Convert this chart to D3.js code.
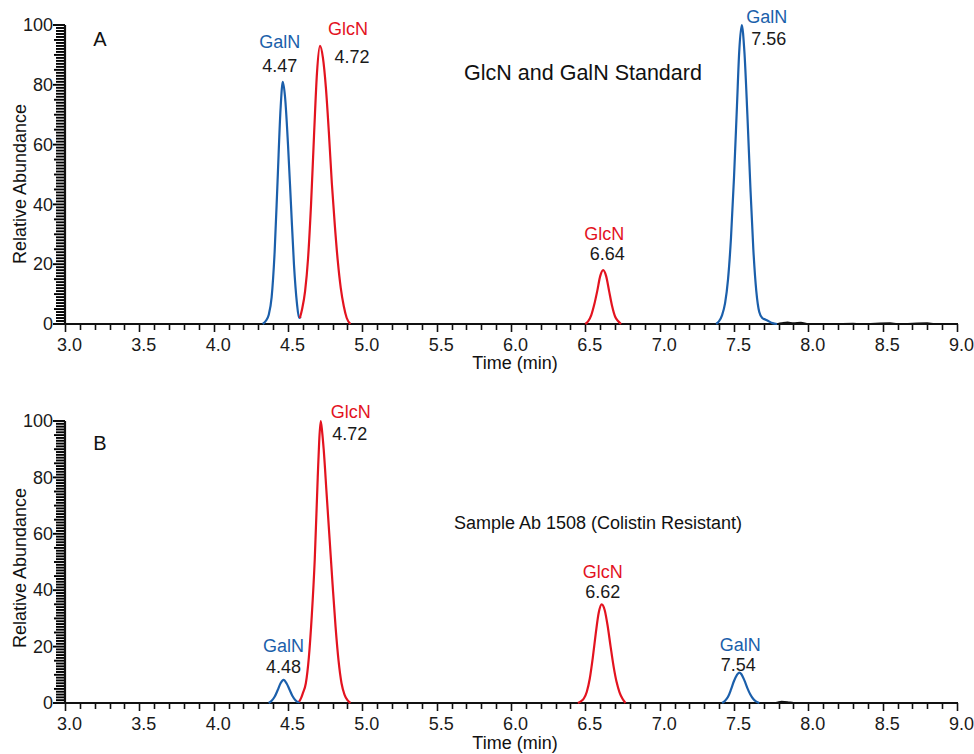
<!DOCTYPE html>
<html>
<head>
<meta charset="utf-8">
<script src="https://cdn.jsdelivr.net/npm/d3@7"></script>
<style>
  html, body { margin: 0; padding: 0; background: #fff; }
  svg { display: block; font-family: "Liberation Sans", Arial, sans-serif; }
</style>
</head>
<body>
<div id="chart"></div>
<script>
// tick labels
const xTickLabels = [3.0, 3.5, 4.0, 4.5, 5.0, 5.5, 6.0, 6.5, 7.0, 7.5, 8.0, 8.5, 9.0]
const yTickLabels = [0, 20, 40, 60, 80, 100]

// panel A : GlcN and GalN Standard  [time (min), relative abundance]
const stdGalN1 = [[4.33,0],[4.35,1],[4.37,3],[4.39,9],[4.41,24],[4.43,48],[4.45,72],[4.465,81],[4.48,76],[4.50,60],[4.52,40],[4.54,20],[4.56,7],[4.575,2],[4.585,2.5]]
const stdGlcN1 = [[4.58,2],[4.595,5],[4.615,11],[4.635,22],[4.655,40],[4.675,63],[4.695,84],[4.715,93],[4.735,89],[4.755,79],[4.775,64],[4.795,47],[4.815,33],[4.835,21],[4.855,12],[4.875,6],[4.895,2],[4.92,0]]
const stdGlcN2 = [[6.50,0],[6.52,1],[6.54,3],[6.56,6.5],[6.58,11],[6.60,16],[6.62,18],[6.64,16],[6.66,11],[6.68,6],[6.70,2.5],[6.72,1],[6.74,0]]
const stdGalN2 = [[7.38,0],[7.40,1],[7.42,3],[7.44,7],[7.46,15],[7.48,29],[7.50,49],[7.52,73],[7.535,91],[7.552,100],[7.57,91],[7.59,70],[7.61,46],[7.63,25],[7.65,11],[7.67,4],[7.69,2],[7.71,1.5],[7.73,1],[7.76,0.3],[7.79,0]]
const stdNoise = [[7.79,0],[7.82,0.3],[7.86,0.6],[7.9,0.3],[7.95,0.5],[8.0,0.1],[8.1,0],[8.3,0.2],[8.35,0],[8.55,0.3],[8.6,0],[8.8,0.3],[8.85,0],[8.95,0]]

// panel B : Sample Ab 1508 (Colistin Resistant)
const smpGalN1 = [[4.37,0],[4.39,0.8],[4.41,2.2],[4.43,4.5],[4.45,7],[4.47,8.2],[4.49,7],[4.51,4.8],[4.53,2.5],[4.55,1],[4.57,0.3],[4.58,0.5]]
const smpGlcN1 = [[4.575,0.5],[4.59,2],[4.60,3.5],[4.62,7],[4.64,16],[4.66,31],[4.68,51],[4.70,80],[4.71,93],[4.72,100],[4.73,96],[4.74,90],[4.76,74],[4.78,58],[4.80,42],[4.82,27],[4.84,15],[4.86,7],[4.88,3],[4.90,1],[4.92,0]]
const smpGlcN2 = [[6.45,0],[6.47,0.6],[6.49,1.6],[6.51,4],[6.53,8.7],[6.55,16],[6.57,24.6],[6.59,32],[6.61,35],[6.63,33],[6.65,27.4],[6.67,20],[6.69,13],[6.71,7.5],[6.73,3.8],[6.75,1.5],[6.77,0]]
const smpGalN2 = [[7.42,0],[7.44,0.8],[7.46,2.2],[7.48,4.8],[7.50,7.8],[7.52,10],[7.535,10.8],[7.55,10.2],[7.57,8],[7.59,5.3],[7.61,3],[7.63,1.4],[7.65,0.5],[7.67,0]]
const smpNoise = [[7.67,0],[7.75,0],[7.79,0.2],[7.82,0.5],[7.86,0.4],[7.9,0.1],[7.95,0]]

// peak labels: name, retention time text, apex [t, h]
const stdLabels = [
  { name: "GalN", rt: "4.47", t: 4.465, h: 81 },
  { name: "GlcN", rt: "4.72", t: 4.715, h: 93 },
  { name: "GlcN", rt: "6.64", t: 6.62, h: 18 },
  { name: "GalN", rt: "7.56", t: 7.552, h: 100 }
]
const smpLabels = [
  { name: "GalN", rt: "4.48", t: 4.47, h: 8.2 },
  { name: "GlcN", rt: "4.72", t: 4.72, h: 100 },
  { name: "GlcN", rt: "6.62", t: 6.61, h: 35 },
  { name: "GalN", rt: "7.54", t: 7.535, h: 10.8 }
]

const blue = "#1b5fab"
const red = "#e3131f"
const ink = "#111"
const colorOf = (name) => (name === "GalN" ? blue : red)

// label offsets from apex (px): [nameDx, nameDy, rtDx, rtDy]
const stdOffsets = [[-3, -34, -3, -10], [28, -11, 32, 17], [1, -30, 4, -10], [25, -2, 27, 20]]
const smpOffsets = [[0, -28, 0, -7], [30, -3, 29, 19], [1, -26, 1, -6], [1, -22, -1, -2]]

const width = 974
const height = 754

const svg = d3.select("#chart").append("svg")
  .attr("width", width)
  .attr("height", height)
  .attr("viewBox", `0 0 ${width} ${height}`)

const x = d3.scaleLinear().domain([3, 9]).range([65, 957])

function drawPanel(cfg) {
  const y = d3.scaleLinear().domain([0, 100]).range([cfg.bottom, cfg.top])
  const g = svg.append("g")

  // x ticks: minor every 0.1, labelled every 0.5
  const xMinor = d3.range(30, 91).map((v) => v / 10)
  g.append("g")
    .attr("class", "x-minor")
    .selectAll("line")
    .data(xMinor)
    .join("line")
    .attr("x1", (d) => Math.round(x(d)) + 0.5)
    .attr("x2", (d) => Math.round(x(d)) + 0.5)
    .attr("y1", cfg.bottom)
    .attr("y2", (d) => cfg.bottom + (Math.round(d * 10) % 5 === 0 ? 8 : 6))
    .attr("stroke", ink)
    .attr("stroke-width", 1.6)

  g.append("g")
    .attr("transform", `translate(0,${cfg.bottom})`)
    .call(d3.axisBottom(x).tickValues(xTickLabels).tickSize(0).tickPadding(14).tickFormat(d3.format(".1f")))
    .call((a) => a.select(".domain").remove())
    .call((a) => a.selectAll("text")
      .attr("font-size", "18px")
      .attr("fill", "#1a1a1a")
      .attr("dx", 4)
      .attr("font-family", "Liberation Sans, Arial, sans-serif"))

  // y ticks: minor every 1, medium every 5, long every 20 (dense ruler)
  const yMinor = d3.range(0, 101)
  g.append("g")
    .attr("class", "y-minor")
    .selectAll("rect")
    .data(yMinor)
    .join("rect")
    .attr("x", (d) => 65 - (d % 20 === 0 ? 12 : d % 5 === 0 ? 11 : 9))
    .attr("width", (d) => (d % 20 === 0 ? 12 : d % 5 === 0 ? 11 : 9))
    .attr("y", (d) => y(d) - 0.95)
    .attr("height", 1.9)
    .attr("fill", "#000")

  g.append("g")
    .attr("transform", `translate(53,0)`)
    .call(d3.axisLeft(y).tickValues(yTickLabels).tickSize(0).tickPadding(0))
    .call((a) => a.select(".domain").remove())
    .call((a) => a.selectAll("text")
      .attr("font-size", "18px")
      .attr("fill", "#1a1a1a")
      .attr("font-family", "Liberation Sans, Arial, sans-serif"))

  // axis lines
  g.append("line")
    .attr("x1", 64).attr("x2", 958)
    .attr("y1", cfg.bottom).attr("y2", cfg.bottom)
    .attr("stroke", ink).attr("stroke-width", 2.2)
  g.append("line")
    .attr("x1", 65).attr("x2", 65)
    .attr("y1", cfg.bottom + 1).attr("y2", cfg.top)
    .attr("stroke", ink).attr("stroke-width", 2.2)

  // traces
  const line = d3.line()
    .x((d) => x(d[0]))
    .y((d) => y(d[1]))
    .curve(d3.curveMonotoneX)

  cfg.traces.forEach((tr) => {
    g.append("path")
      .datum(tr.data)
      .attr("d", line)
      .attr("fill", "none")
      .attr("stroke", tr.color)
      .attr("stroke-width", tr.color === ink ? 1.5 : 2.2)
      .attr("stroke-linejoin", "round")
  })

  // peak labels
  cfg.labels.forEach((lb, i) => {
    const off = cfg.offsets[i]
    const px = x(lb.t)
    const py = y(lb.h)
    g.append("text")
      .attr("x", px + off[0])
      .attr("y", py + off[1])
      .attr("text-anchor", "middle")
      .attr("font-size", "18px")
      .attr("fill", colorOf(lb.name))
      .text(lb.name)
    g.append("text")
      .attr("x", px + off[2])
      .attr("y", py + off[3])
      .attr("text-anchor", "middle")
      .attr("font-size", "18px")
      .attr("fill", "#1a1a1a")
      .text(lb.rt)
  })

  // panel letter and title
  g.append("text")
    .attr("x", 100).attr("y", cfg.letterY)
    .attr("text-anchor", "middle")
    .attr("font-size", "20px")
    .attr("fill", ink)
    .text(cfg.letter)
  g.append("text")
    .attr("x", cfg.titleX).attr("y", cfg.titleY)
    .attr("text-anchor", "middle")
    .attr("font-size", cfg.titleSize)
    .attr("fill", ink)
    .text(cfg.title)

  // axis titles
  g.append("text")
    .attr("x", 515).attr("y", cfg.bottom + cfg.timeDy)
    .attr("text-anchor", "middle")
    .attr("font-size", "18px")
    .attr("fill", ink)
    .text("Time (min)")
  g.append("text")
    .attr("transform", `translate(26,${cfg.labelMid}) rotate(-90)`)
    .attr("text-anchor", "middle")
    .attr("font-size", "18px")
    .attr("fill", ink)
    .text("Relative Abundance")
}

drawPanel({
  top: 25, bottom: 324,
  letter: "A", letterY: 46,
  title: "GlcN and GalN Standard", titleX: 583, titleY: 80, titleSize: "21.5px",
  labelMid: 184, timeDy: 45,
  traces: [
    { data: stdNoise, color: ink },
    { data: stdGalN1, color: blue },
    { data: stdGlcN1, color: red },
    { data: stdGlcN2, color: red },
    { data: stdGalN2, color: blue }
  ],
  labels: stdLabels, offsets: stdOffsets
})

drawPanel({
  top: 421, bottom: 703,
  letter: "B", letterY: 450,
  title: "Sample Ab 1508 (Colistin Resistant)", titleX: 598, titleY: 529, titleSize: "18px",
  labelMid: 568, timeDy: 46,
  traces: [
    { data: smpNoise, color: ink },
    { data: smpGalN1, color: blue },
    { data: smpGlcN1, color: red },
    { data: smpGlcN2, color: red },
    { data: smpGalN2, color: blue }
  ],
  labels: smpLabels, offsets: smpOffsets
})
</script>
</body>
</html>
